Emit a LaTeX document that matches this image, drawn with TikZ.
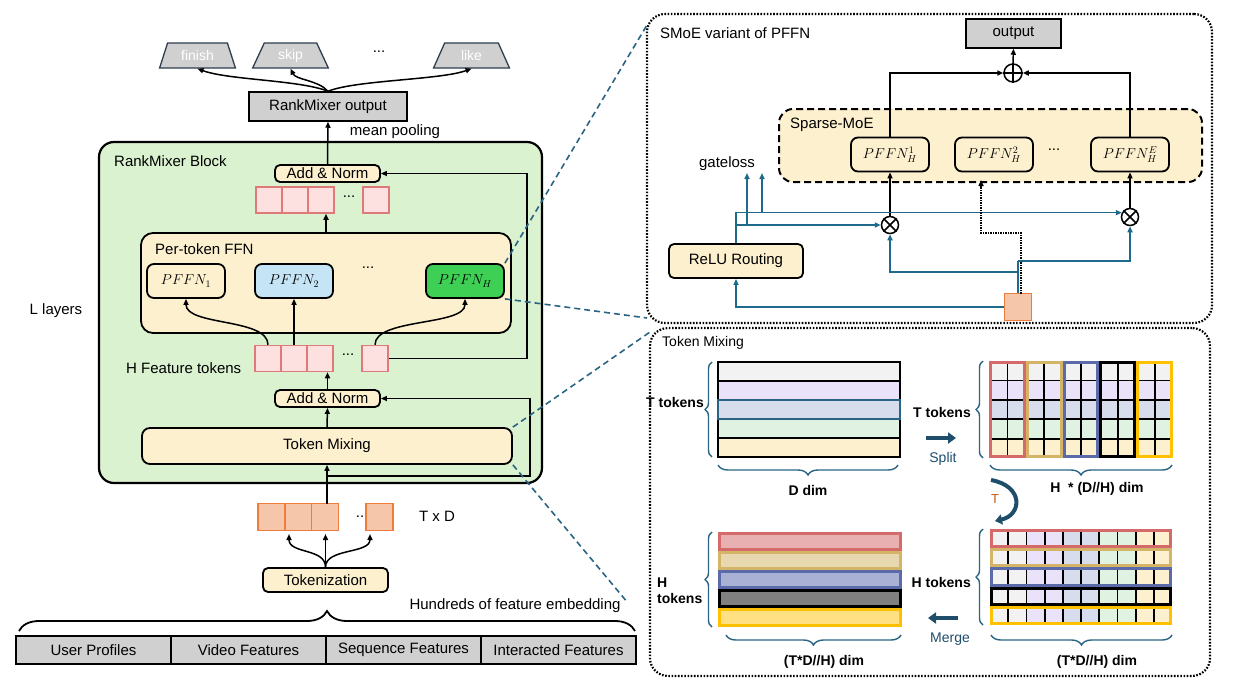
\documentclass[tikz,border=0pt]{standalone}
\usepackage{fontspec}
\setmainfont{Liberation Sans}
\usetikzlibrary{shapes.geometric,arrows.meta,decorations.pathreplacing,calc}
\definecolor{cgreen}{HTML}{DAF2D0}
\definecolor{ccream}{HTML}{FDF0CE}
\definecolor{cpinkf}{HTML}{FDE0E0}
\definecolor{cpinkd}{HTML}{E07A7A}
\definecolor{csalf}{HTML}{F6C6AB}
\definecolor{csald}{HTML}{EE7D3B}
\definecolor{cgray}{HTML}{D0D0D0}
\definecolor{cblue}{HTML}{C5E4F5}
\definecolor{cgrn}{HTML}{3ECF55}
\definecolor{cslate}{HTML}{2E3E4E}
\definecolor{cdash}{HTML}{2A6485}
\definecolor{croute}{HTML}{1D6A8C}
\definecolor{cdark}{HTML}{1F4E6B}
\definecolor{corange}{HTML}{C55A11}
\definecolor{rc1}{HTML}{F2F2F2}
\definecolor{rc2}{HTML}{E9E2F8}
\definecolor{rc3}{HTML}{D8DDEE}
\definecolor{rc4}{HTML}{E0F3E3}
\definecolor{rc5}{HTML}{FCF0CE}
\definecolor{gr1}{HTML}{D46A6A}
\definecolor{gr2}{HTML}{D4B466}
\definecolor{gr3}{HTML}{5B6BAA}
\definecolor{gr4}{HTML}{000000}
\definecolor{gr5}{HTML}{FFC000}
\definecolor{fl1}{HTML}{E8B0B0}
\definecolor{fl2}{HTML}{E8D8B0}
\definecolor{fl3}{HTML}{A9B1D4}
\definecolor{fl4}{HTML}{808080}
\definecolor{fl5}{HTML}{FFE083}
\newcommand{\fsz}[1]{\fontsize{#1}{#1}\selectfont}
\begin{document}
\begin{tikzpicture}[x=1pt,y=-1pt,
  arr/.style={line width=1.5pt,-{Triangle[length=6pt,width=5pt]}},
  bl/.style={croute,line width=1.5pt},
  blarr/.style={bl,-{Triangle[length=6pt,width=5pt]}},
  rbox/.style={draw,line width=1.8pt,rounded corners=5pt,fill=ccream,inner sep=0pt,font=\fsz{15}},
  pbox/.style={draw,line width=1.8pt,rounded corners=7pt,fill=ccream,inner sep=0pt,minimum width=78pt,minimum height=34pt,font=\fsz{14}},
  gbox/.style={draw,line width=1.5pt,fill=cgray,inner sep=0pt,font=\fsz{15}},
  tokp/.style={draw=cpinkd,fill=cpinkf,line width=1.5pt,minimum width=26pt,minimum height=26pt,inner sep=0pt},
  toks/.style={draw=csald,fill=csalf,line width=1.5pt,minimum width=27pt,minimum height=27pt,inner sep=0pt},
  trap/.style={trapezium,trapezium stretches=true,trapezium left angle=67,trapezium right angle=67,draw=cslate,fill=cgray,line width=1.3pt,minimum width=76pt,minimum height=25pt,inner sep=0pt,text=white,font=\fsz{14}},
  lbl/.style={font=\fsz{15},inner sep=0pt},
  blbl/.style={font=\fsz{14}\bfseries,inner sep=0pt},
  dcon/.style={cdash,line width=1.6pt,dash pattern=on 6pt off 4pt},
  panel/.style={draw,line width=2.2pt,dash pattern=on 1.6pt off 1.6pt,rounded corners=18pt,inner sep=0pt},
  brc/.style={cdash,line width=1.4pt,decorate,decoration={brace,amplitude=#1}},
  harrow/.style={cdark,line width=4.5pt,-{Triangle[length=8pt,width=11pt]}}
]
\useasboundingbox (0,0) rectangle (1240,694);

% ---------------- left: outputs
\node[trap] (finish) at (197.5,55.5) {finish};
\node[trap] (skip) at (290.5,55.5) {skip};
\node[lbl] (odots) at (379,52) {...};
\node[trap] (like) at (471.5,55.5) {like};
\node[gbox,minimum width=158pt,minimum height=29pt] (rmo) at (328,106.5) {RankMixer output};
\node[lbl] (mp) at (395,132) {mean pooling};
\draw[arr] (rmo.north) .. controls (300,80) and (228,80) .. (finish.south);
\draw[arr] (rmo.north) .. controls (318,80) and (296,80) .. (skip.south);
\draw[arr] (rmo.north) .. controls (356,80) and (440,80) .. (like.south);

% ---------------- RankMixer block
\node[draw,line width=2.2pt,rounded corners=15pt,fill=cgreen,minimum width=443pt,minimum height=341pt] (blk) at (320.5,312.5) {};
\node[lbl,anchor=west] (blkl) at (114,161) {RankMixer Block};
\node[lbl] (ll) at (56,311) {L layers};
\node[rbox,minimum width=105pt,minimum height=17pt] (an1) at (327.5,173.5) {Add \& Norm};
\node[tokp] (tt1) at (269,200) {};
\node[tokp] (tt2) at (295,200) {};
\node[tokp] (tt3) at (321,200) {};
\node[lbl] (ttd) at (349,197) {...};
\node[tokp] (tt4) at (376,200) {};
\node[draw,line width=1.8pt,rounded corners=12pt,fill=ccream,minimum width=370pt,minimum height=100pt] (ffn) at (326,283) {};
\node[lbl,anchor=west] (ffnl) at (155,249) {Per-token FFN};
\node[pbox] (p1) at (186,281) {$PFFN_1$};
\node[pbox,fill=cblue] (p2) at (294,281) {$PFFN_2$};
\node[lbl] (pd) at (368,268) {...};
\node[pbox,fill=cgrn] (pH) at (465,281) {$PFFN_H$};
\node[tokp] (ht1) at (268,358.5) {};
\node[tokp] (ht2) at (294,358.5) {};
\node[tokp] (ht3) at (320,358.5) {};
\node[lbl] (htd) at (348,355) {...};
\node[tokp] (ht4) at (375,358.5) {};
\node[lbl,anchor=west] (htl) at (126,368) {H Feature tokens};
\node[rbox,minimum width=105pt,minimum height=17pt] (an2) at (327.5,398.5) {Add \& Norm};
\node[rbox,rounded corners=8pt,minimum width=370pt,minimum height=36pt] (tm) at (327,446) {Token Mixing};

\draw[arr] (an1.north) -- (rmo.south);
\draw[arr] (ffn.north) -- (ffn.north |- tt1.south);
\draw[arr] (ht1.north) .. controls (268,318) and (186,326) .. (p1.south);
\draw[arr] (ht2.north) -- (p2.south);
\draw[arr] (ht4.north) .. controls (375,318) and (465,326) .. (pH.south);
\coordinate (sk1) at (527,358.5);
\draw[arr] (ht4.east) -- (sk1) |- (an1.east);
\draw[arr] (an2.north) -- (an2.north |- ht1.south);
\draw[arr] (tm.north) -- (an2.south);

% ---------------- input tokens
\node[toks] (xt1) at (271.5,517) {};
\node[toks] (xt2) at (298.5,517) {};
\node[toks] (xt3) at (325,517) {};
\node[lbl] (xtd) at (360,517) {..};
\node[toks] (xt4) at (379.5,517) {};
\node[lbl] (txd) at (437,516) {T x D};
\node[rbox,minimum width=125pt,minimum height=24pt] (tok) at (325.5,580) {Tokenization};
\coordinate (inB) at (327,503.5);
\coordinate (br) at (327,476);
\coordinate (sk2) at (530,476);
\draw[arr] (inB) -- (tm.south);
\draw[arr] (br) -- (sk2) |- (an2.east);
\coordinate (a1) at (289,534);
\coordinate (a2) at (325.5,534);
\coordinate (a3) at (370,534);
\draw[arr] (tok.north) .. controls (325.5,548) and (289,554) .. (a1);
\draw[arr] (tok.north) -- (a2);
\draw[arr] (tok.north) .. controls (325.5,548) and (370,554) .. (a3);
\node[lbl] (hund) at (515,606) {Hundreds of feature embedding};
\draw[line width=1.8pt,decorate,decoration={brace,amplitude=20pt}] (19,631) -- (635,631);
\node[gbox,minimum width=155pt,minimum height=28pt] (up) at (93.5,650) {User Profiles};
\node[gbox,minimum width=155pt,minimum height=28pt] (vf) at (248.5,650) {Video Features};
\node[gbox,minimum width=155pt,minimum height=28pt] (sf) at (403.5,650) {Sequence Features};
\node[gbox,minimum width=155pt,minimum height=28pt] (inf) at (558.5,650) {Interacted Features};

% ---------------- right top: SMoE
\node[panel,minimum width=565pt,minimum height=309pt] (smoe) at (929.5,168.5) {};
\node[lbl,anchor=west] (smoel) at (660,33) {SMoE variant of PFFN};
\node[gbox,minimum width=95pt,minimum height=29pt] (out) at (1013.5,33.5) {output};
\node[circle,draw,line width=1.5pt,minimum size=18pt,inner sep=0pt] (plus) at (1013,73) {};
\draw[line width=1.5pt] (plus.north) -- (plus.south) (plus.west) -- (plus.east);
\node[draw,line width=2pt,dash pattern=on 7pt off 4pt,rounded corners=14pt,fill=ccream,minimum width=423pt,minimum height=73pt] (moe) at (990.5,145.5) {};
\node[lbl,anchor=west] (moel) at (790,125) {Sparse-MoE};
\node[pbox] (q1) at (890,154.5) {$PFFN_H^1$};
\node[pbox] (q2) at (994,154.5) {$PFFN_H^2$};
\node[lbl] (qd) at (1054,150) {...};
\node[pbox] (qE) at (1130,154.5) {$PFFN_H^E$};
\node[lbl] (gl) at (727,164) {gateloss};
\node[rbox,minimum width=134pt,minimum height=34pt] (relu) at (736,261) {ReLU Routing};
\node[circle,draw,line width=1.5pt,minimum size=17pt,inner sep=0pt] (c1) at (890,225) {};
\draw[line width=1.5pt] (c1.45) -- (c1.225) (c1.135) -- (c1.315);
\node[circle,draw,line width=1.5pt,minimum size=17pt,inner sep=0pt] (cE) at (1130,217) {};
\draw[line width=1.5pt] (cE.45) -- (cE.225) (cE.135) -- (cE.315);
\node[toks] (sq) at (1018,307) {};

\draw[arr] (q1.north) |- (plus.west);
\draw[arr] (qE.north) |- (plus.east);
\draw[arr] (plus.north) -- (out.south);
\draw[arr] (c1.north) -- (q1.south);
\draw[arr] (cE.north) -- (qE.south);
\coordinate (g1) at (747,173);
\coordinate (g2) at (762,173);
\draw[blarr] (relu.north) -- (relu.north |- cE.152) -- (cE.152);
\draw[blarr] (relu.north |- c1.west) -- (c1.west);
\draw[blarr] (g1 |- c1.west) -- (g1);
\draw[blarr] (g2 |- cE.152) -- (g2);
\coordinate (d1) at (1021,233);
\coordinate (d2) at (981,180);
\draw[line width=1.5pt,densely dotted,-{Triangle[length=6pt,width=5pt]}] (1021,293.5) -- (d1) -| (d2);
\coordinate (j1) at (1018,272);
\coordinate (j2) at (1018,261);
\draw[blarr] (sq.west) -| (relu.south);
\draw[bl] (sq.north) -- (j2);
\draw[blarr] (j1) -| (c1.south);
\draw[blarr] (j2) -| (cE.south);

% ---------------- right bottom: Token Mixing
\node[panel,minimum width=560pt,minimum height=348pt] (tmp) at (930,502) {};
\node[lbl,anchor=west,font=\fsz{14}] (tmpl) at (662,343) {Token Mixing};
% matrix A
\foreach \c [count=\i from 0] in {rc1,rc2,rc3,rc4,rc5}
  \draw[fill=\c,line width=1.5pt] (718,{362+19*\i}) rectangle (900,{381+19*\i});
\draw[cdash,line width=2pt] (718,400) rectangle (900,419);
\draw[brc=7pt] (712,457) -- (712,362);
\node[blbl,anchor=east] (tA) at (704,402) {T tokens};
\draw[brc=10pt] (898,465) -- (718,465);
\node[blbl] (dA) at (808,490) {D dim};
% split
\draw[harrow] (926,438) -- (956,438);
\node[font=\fsz{14},text=cdark,inner sep=0pt] (spl) at (943,459) {Split};
% matrix B
\foreach \c [count=\i from 0] in {rc1,rc2,rc3,rc4,rc5}
  \fill[\c] (989,{361+19.4*\i}) rectangle (1173,{380.4+19.4*\i});
\foreach \k in {1,...,9}
  \draw[line width=1.8pt] ({989+18.4*\k},361) -- ({989+18.4*\k},458);
\foreach \r in {1,...,4}
  \draw[line width=1.8pt] (989,{361+19.4*\r}) -- (1173,{361+19.4*\r});
\foreach \c [count=\g from 0] in {gr1,gr2,gr3,gr4,gr5}
  \draw[\c,line width=3pt] ({989+36.8*\g+1.5},362.5) rectangle ({989+36.8*(\g+1)-1.5},456.5);
\draw[brc=7pt] (983,458) -- (983,361);
\node[blbl,anchor=east] (tB) at (971,412) {T tokens};
\draw[brc=10pt] (1172,465) -- (990,465);
\node[blbl] (dB) at (1097,489) {H\ \ * (D//H) dim};
% transpose arrow
\draw[cdark,line width=4pt,-{Triangle[length=7pt,width=10pt]}] (991,480) .. controls (1024,486) and (1022,515) .. (995,521);
\node[font=\fsz{13},text=corange,inner sep=0pt] (tT) at (995,499) {T};
% matrix C
\foreach \c [count=\j from 0] in {rc1,rc2,rc3,rc4,rc5}
  \fill[\c] ({990+36.4*\j},529) rectangle ({990+36.4*(\j+1)},625);
\foreach \k in {1,...,9}
  \draw[line width=1.8pt] ({990+18.2*\k},529) -- ({990+18.2*\k},625);
\foreach \c [count=\r from 0] in {gr1,gr2,gr3,gr4,gr5}
  \draw[\c,line width=3pt] (991.5,{529+19.2*\r+1.5}) rectangle (1170.5,{529+19.2*(\r+1)-1.5});
\draw[brc=7pt] (983,625) -- (983,529);
\node[blbl,anchor=east] (hC) at (971,582) {H tokens};
\draw[brc=10pt] (1172,635) -- (991,635);
\node[blbl] (dC) at (1097,662) {(T*D//H) dim};
% merge
\draw[harrow] (958,618) -- (928,618);
\node[font=\fsz{14},text=cdark,inner sep=0pt] (mrg) at (950,639) {Merge};
% matrix D
\foreach \c/\f [count=\r from 0] in {gr1/fl1,gr2/fl2,gr3/fl3,gr4/fl4,gr5/fl5}
  \draw[\c,fill=\f,line width=3pt] (719.5,{532+19*\r+1.5}) rectangle (900.5,{532+19*(\r+1)-1.5});
\draw[brc=7pt] (712,627) -- (712,532);
\node[blbl,anchor=west,align=left,font=\fsz{14}\bfseries] (hD) at (657,591) {H\\[2pt]tokens};
\draw[brc=10pt] (901,635) -- (726,635);
\node[blbl] (dD) at (824,662) {(T*D//H) dim};

% ---------------- dashed zoom connectors
\coordinate (z1) at (647,25);
\coordinate (z2) at (647,318);
\coordinate (z3) at (650,332);
\coordinate (z4) at (628,603);
\draw[dcon] (pH.north east) -- (z1);
\draw[dcon] (pH.south east) -- (z2);
\draw[dcon] (tm.north east) -- (z3);
\draw[dcon] (tm.south east) -- (z4);
\end{tikzpicture}
\end{document}
